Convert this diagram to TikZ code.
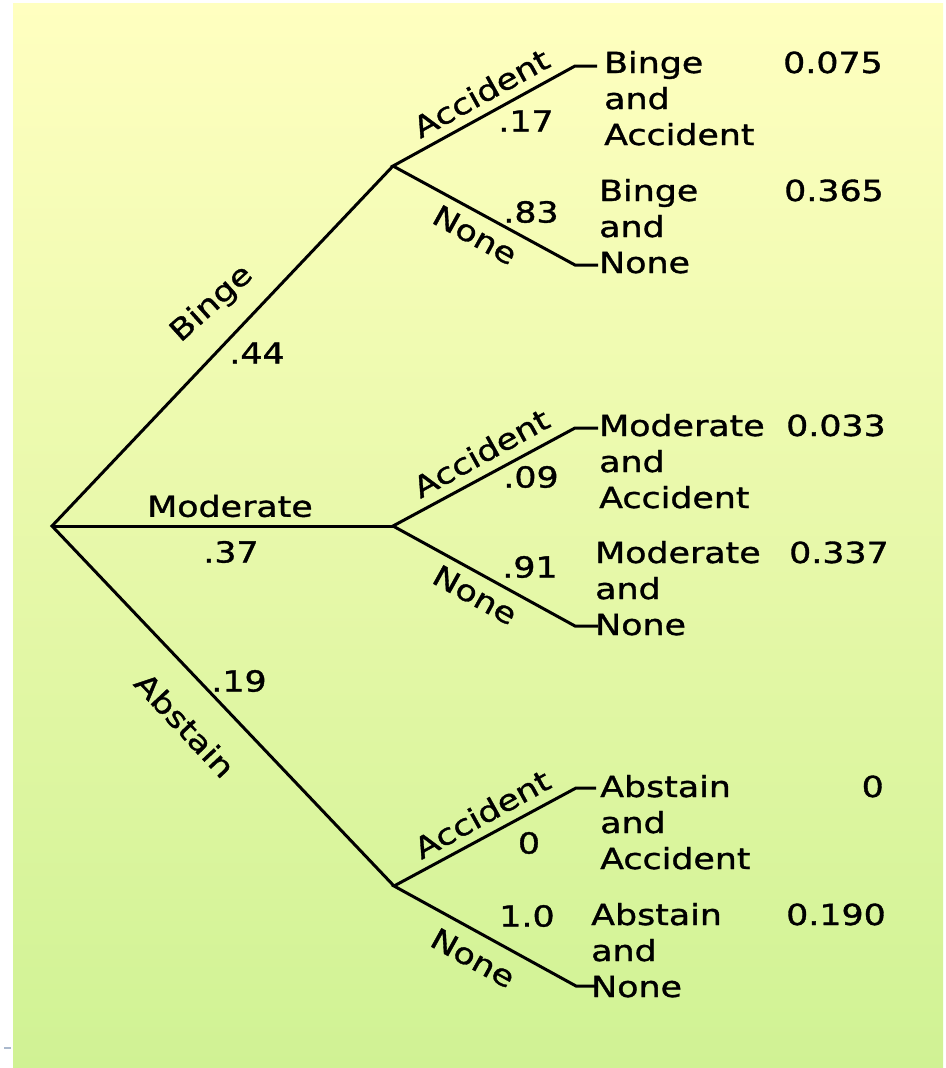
\documentclass[tikz,border=0pt]{standalone}
\usepackage{fontspec}
\setmainfont[FakeStretch=1.2,FakeBold=1.2]{DejaVu Sans}
\definecolor{bgtop}{RGB}{255,255,192}
\definecolor{bgbot}{RGB}{208,242,148}
\definecolor{dashgray}{RGB}{170,185,205}
\begin{document}
\begin{tikzpicture}[x=1pt,y=-1pt,
  lbl/.style={font=\fontsize{29}{36}\selectfont, inner sep=0pt},
  branch/.style={line width=3pt, black},
  leaf/.style={lbl, anchor=base west},
  val/.style={lbl, anchor=base east}]
\useasboundingbox (0,0) rectangle (945,1068);
\fill[white] (0,0) rectangle (945,1068);
\shade[top color=bgtop, bottom color=bgbot] (13,3) rectangle (943,1068);
\draw[dashgray, line width=2pt] (4,1048) -- (11,1048);

% junctions
\coordinate (root) at (52,526);
\coordinate (binge) at (393,166);
\coordinate (moderate) at (393,526);
\coordinate (abstain) at (394,886);

% branch ends and stubs
\coordinate (bA) at (575,66);  \coordinate (bAs) at (597,66);
\coordinate (bN) at (575,265); \coordinate (bNs) at (598,265);
\coordinate (mA) at (575,428); \coordinate (mAs) at (598,428);
\coordinate (mN) at (575,626); \coordinate (mNs) at (598,626);
\coordinate (aA) at (576,788); \coordinate (aAs) at (596,788);
\coordinate (aN) at (576,986); \coordinate (aNs) at (598,986);

\draw[branch] (binge) -- (root) -- (abstain);
\draw[branch] (root) -- (moderate);
\draw[branch] (bAs) -- (bA) -- (binge) -- (bN) -- (bNs);
\draw[branch] (mAs) -- (mA) -- (moderate) -- (mN) -- (mNs);
\draw[branch] (aAs) -- (aA) -- (abstain) -- (aN) -- (aNs);

% first-level labels
\node[lbl, rotate=42] (tBinge) at (212,304) {Binge};
\node[lbl] (pBinge) at (257,353) {.44};
\node[lbl] (tMod) at (230,506) {Moderate};
\node[lbl] (pMod) at (231,552) {.37};
\node[lbl, rotate=-47] (tAbs) at (185,725) {Abstain};
\node[lbl] (pAbs) at (239,681) {.19};

% second-level labels
\node[lbl, rotate=29] (tBA) at (481,93) {Accident};
\node[lbl] (pBA) at (526,121) {.17};
\node[lbl, rotate=-29] (tBN) at (475,235) {None};
\node[lbl] (pBN) at (531,212) {.83};

\node[lbl, rotate=29] (tMA) at (481,453) {Accident};
\node[lbl] (pMA) at (531,477) {.09};
\node[lbl, rotate=-29] (tMN) at (475,595) {None};
\node[lbl] (pMN) at (530,567) {.91};

\node[lbl, rotate=29] (tAA) at (482,814) {Accident};
\node[lbl] (pAA) at (529,843) {0};
\node[lbl, rotate=-29] (tAN) at (473,958) {None};
\node[lbl] (pAN) at (527,916) {1.0};

% leaves
\node[leaf] (lBA) at (604,73) {\begin{tabular}[t]{@{}l@{}}Binge\\and\\Accident\end{tabular}};
\node[leaf] (lBN) at (599,201) {\begin{tabular}[t]{@{}l@{}}Binge\\and\\None\end{tabular}};
\node[leaf] (lMA) at (599,436) {\begin{tabular}[t]{@{}l@{}}Moderate\\and\\Accident\end{tabular}};
\node[leaf] (lMN) at (595,563) {\begin{tabular}[t]{@{}l@{}}Moderate\\and\\None\end{tabular}};
\node[leaf] (lAA) at (600,797) {\begin{tabular}[t]{@{}l@{}}Abstain\\and\\Accident\end{tabular}};
\node[leaf] (lAN) at (591,925) {\begin{tabular}[t]{@{}l@{}}Abstain\\and\\None\end{tabular}};

% joint probabilities
\node[val] (vBA) at (883,73) {0.075};
\node[val] (vBN) at (884,201) {0.365};
\node[val] (vMA) at (886,436) {0.033};
\node[val] (vMN) at (889,563) {0.337};
\node[val] (vAA) at (884,797) {0};
\node[val] (vAN) at (886,925) {0.190};
\end{tikzpicture}
\end{document}
